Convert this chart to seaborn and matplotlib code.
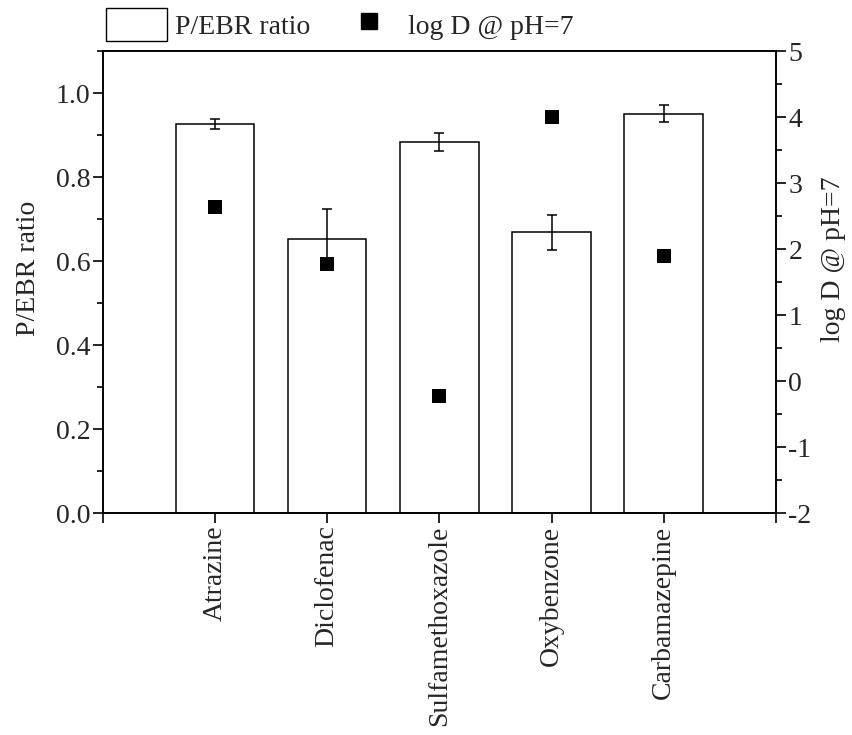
import numpy as np
import pandas as pd
import matplotlib
matplotlib.use("Agg")
import matplotlib.pyplot as plt
import seaborn as sns
from matplotlib.patches import Patch
from matplotlib.lines import Line2D
from matplotlib.ticker import MultipleLocator, FixedLocator

categories = ["Atrazine", "Diclofenac", "Sulfamethoxazole", "Oxybenzone", "Carbamazepine"]
pebr_ratio = [0.926, 0.652, 0.884, 0.668, 0.951]
pebr_err = [0.011, 0.071, 0.021, 0.041, 0.020]
log_d = [2.64, 1.77, -0.22, 4.00, 1.89]

sns.set_theme(style="white")
plt.rcParams["font.family"] = ["Liberation Serif", "DejaVu Serif"]
FS = 20

df = pd.DataFrame({"compound": categories, "ratio": pebr_ratio, "err": pebr_err, "logd": log_d})

fig = plt.figure(figsize=(8.53, 7.35), dpi=100)
ax = fig.add_axes([0.1204, 0.302, 0.7893, 0.6286])

sns.barplot(data=df, x="compound", y="ratio", order=categories, color="white",
            edgecolor="black", linewidth=1.1, width=0.7, ax=ax, errorbar=None, saturation=1)
pos = np.arange(len(categories))
ax.errorbar(pos, df["ratio"], yerr=df["err"], fmt="none", ecolor="black",
            elinewidth=1.1, capsize=3.4, capthick=1.1, zorder=5)

ax.set_xlim(-1, len(categories))
ax.set_ylim(0, 1.1)
ax.set_yticks(np.arange(0, 1.01, 0.2))
ax.set_yticklabels([f"{v:.1f}" for v in np.arange(0, 1.01, 0.2)], fontsize=FS)
ax.yaxis.set_minor_locator(MultipleLocator(0.1))
ax.xaxis.set_major_locator(FixedLocator(np.arange(-1, len(categories) + 1)))
ax.set_xticklabels([""] + categories + [""], rotation=90, fontsize=FS)
ax.xaxis.set_minor_locator(FixedLocator([]))
ax.set_xlabel("")
ax.set_ylabel("P/EBR ratio", fontsize=FS)
ax.yaxis.set_label_coords(-0.092, 0.53)

ax2 = ax.twinx()
sns.scatterplot(x=pos, y=df["logd"], marker="s", s=95, color="black",
                edgecolor="black", linewidth=0, ax=ax2, zorder=6)
ax2.set_ylim(-2, 5)
ax2.set_yticks(np.arange(-2, 6, 1))
ax2.set_yticklabels([str(v) for v in range(-2, 6)], fontsize=FS)
ax2.yaxis.set_minor_locator(MultipleLocator(0.5))
ax2.set_ylabel("log D @ pH=7", fontsize=FS)
ax2.yaxis.set_label_coords(1.067, 0.55)

for a in (ax, ax2):
    for sp in a.spines.values():
        sp.set_linewidth(1.2)
        sp.set_color("black")
    a.tick_params(which="major", direction="out", length=7, width=1.2, color="black", pad=2)
    a.tick_params(which="minor", direction="out", length=4, width=1.2, color="black")
ax.tick_params(axis="x", which="major", length=7, bottom=True)
ax.tick_params(axis="y", which="both", left=True)
ax2.tick_params(axis="y", which="both", right=True)

handles = [Patch(facecolor="white", edgecolor="black", linewidth=1.0),
           Line2D([], [], marker="s", linestyle="none", color="black", markersize=12)]
fig.legend(handles, ["P/EBR ratio", "log D @ pH=7"], loc="center left",
           bbox_to_anchor=(0.124, 0.966), ncol=2, frameon=False, fontsize=FS,
           handlelength=2.2, handleheight=1.45, handletextpad=0.3, columnspacing=1.0,
           borderpad=0, borderaxespad=0)

fig.savefig("out.png", dpi=100)
